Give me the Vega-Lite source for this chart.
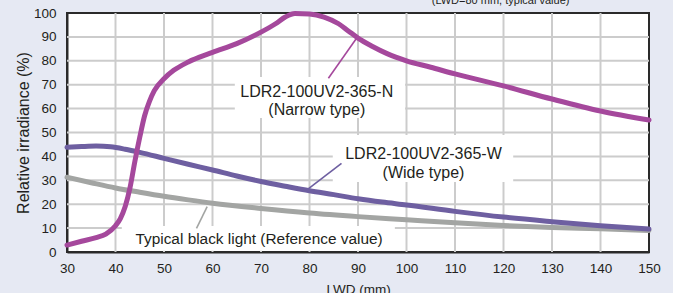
{
  "$schema": "https://vega.github.io/schema/vega-lite/v6.json",
  "width": 582,
  "height": 239,
  "autosize": {"type": "none"},
  "padding": {"left": 67, "top": 13, "right": 24, "bottom": 41},
  "background": "#e6e9f3",
  "data": {"values": [{}]},
  "config": {
    "font": "Liberation Sans",
    "view": {"fill": "white", "stroke": "#2a2a2a", "strokeWidth": 2},
    "axis": {
      "grid": false,
      "domainColor": "#2a2a2a",
      "domainWidth": 2,
      "ticks": false,
      "labelColor": "#231f20",
      "labelFontSize": 13.5,
      "labelFlush": false,
      "labelOverlap": false,
      "titleColor": "#231f20",
      "titleFontWeight": "normal"
    },
    "axisX": {"labelPadding": 9, "titlePadding": 8, "titleFontSize": 13.5},
    "axisY": {"labelPadding": 11, "titlePadding": 2, "titleFontSize": 16}
  },
  "datasets": {
    "gridX": [{"v": 40}, {"v": 50}, {"v": 60}, {"v": 70}, {"v": 80}, {"v": 90}, {"v": 100}, {"v": 110}, {"v": 120}, {"v": 130}, {"v": 140}],
    "gridY": [{"v": 10}, {"v": 20}, {"v": 30}, {"v": 40}, {"v": 50}, {"v": 60}, {"v": 70}, {"v": 80}, {"v": 90}],
    "curves": [
      {"series": "gray", "lwd": 30, "irr": 31.3},
      {"series": "gray", "lwd": 35, "irr": 29.0},
      {"series": "gray", "lwd": 40, "irr": 26.8},
      {"series": "gray", "lwd": 45, "irr": 25.0},
      {"series": "gray", "lwd": 50, "irr": 23.3},
      {"series": "gray", "lwd": 55, "irr": 21.8},
      {"series": "gray", "lwd": 60, "irr": 20.4},
      {"series": "gray", "lwd": 70, "irr": 18.2},
      {"series": "gray", "lwd": 80, "irr": 16.3},
      {"series": "gray", "lwd": 90, "irr": 14.8},
      {"series": "gray", "lwd": 100, "irr": 13.5},
      {"series": "gray", "lwd": 110, "irr": 12.2},
      {"series": "gray", "lwd": 120, "irr": 11.1},
      {"series": "gray", "lwd": 130, "irr": 10.3},
      {"series": "gray", "lwd": 140, "irr": 9.7},
      {"series": "gray", "lwd": 150, "irr": 9.0},
      {"series": "wide", "lwd": 30, "irr": 43.8},
      {"series": "wide", "lwd": 33, "irr": 44.1},
      {"series": "wide", "lwd": 36, "irr": 44.3},
      {"series": "wide", "lwd": 39, "irr": 44.0},
      {"series": "wide", "lwd": 42, "irr": 43.0},
      {"series": "wide", "lwd": 45, "irr": 41.7},
      {"series": "wide", "lwd": 50, "irr": 39.2},
      {"series": "wide", "lwd": 55, "irr": 36.7},
      {"series": "wide", "lwd": 60, "irr": 34.3},
      {"series": "wide", "lwd": 65, "irr": 31.8},
      {"series": "wide", "lwd": 70, "irr": 29.5},
      {"series": "wide", "lwd": 75, "irr": 27.5},
      {"series": "wide", "lwd": 80, "irr": 25.6},
      {"series": "wide", "lwd": 85, "irr": 24.0},
      {"series": "wide", "lwd": 90, "irr": 22.3},
      {"series": "wide", "lwd": 95, "irr": 20.9},
      {"series": "wide", "lwd": 100, "irr": 19.7},
      {"series": "wide", "lwd": 110, "irr": 17.0},
      {"series": "wide", "lwd": 120, "irr": 14.6},
      {"series": "wide", "lwd": 130, "irr": 12.7},
      {"series": "wide", "lwd": 140, "irr": 11.0},
      {"series": "wide", "lwd": 150, "irr": 9.6},
      {"series": "narrow", "lwd": 30, "irr": 2.9},
      {"series": "narrow", "lwd": 33, "irr": 4.5},
      {"series": "narrow", "lwd": 36, "irr": 6.0},
      {"series": "narrow", "lwd": 38, "irr": 7.5},
      {"series": "narrow", "lwd": 40, "irr": 11.0},
      {"series": "narrow", "lwd": 41, "irr": 14.0},
      {"series": "narrow", "lwd": 42, "irr": 19.0},
      {"series": "narrow", "lwd": 43, "irr": 27.0},
      {"series": "narrow", "lwd": 44, "irr": 38.0},
      {"series": "narrow", "lwd": 45, "irr": 48.0},
      {"series": "narrow", "lwd": 46, "irr": 57.0},
      {"series": "narrow", "lwd": 47, "irr": 63.0},
      {"series": "narrow", "lwd": 48, "irr": 67.5},
      {"series": "narrow", "lwd": 50, "irr": 72.5},
      {"series": "narrow", "lwd": 52, "irr": 76.0},
      {"series": "narrow", "lwd": 55, "irr": 79.5},
      {"series": "narrow", "lwd": 60, "irr": 83.5},
      {"series": "narrow", "lwd": 65, "irr": 87.2},
      {"series": "narrow", "lwd": 70, "irr": 92.0},
      {"series": "narrow", "lwd": 73, "irr": 95.5},
      {"series": "narrow", "lwd": 75, "irr": 98.3},
      {"series": "narrow", "lwd": 77, "irr": 99.8},
      {"series": "narrow", "lwd": 80, "irr": 99.6},
      {"series": "narrow", "lwd": 83, "irr": 98.3},
      {"series": "narrow", "lwd": 86, "irr": 95.5},
      {"series": "narrow", "lwd": 88, "irr": 92.5},
      {"series": "narrow", "lwd": 90, "irr": 89.5},
      {"series": "narrow", "lwd": 93, "irr": 86.0},
      {"series": "narrow", "lwd": 96, "irr": 83.0},
      {"series": "narrow", "lwd": 100, "irr": 80.0},
      {"series": "narrow", "lwd": 105, "irr": 77.3},
      {"series": "narrow", "lwd": 110, "irr": 74.5},
      {"series": "narrow", "lwd": 120, "irr": 69.5},
      {"series": "narrow", "lwd": 130, "irr": 64.0},
      {"series": "narrow", "lwd": 140, "irr": 59.0},
      {"series": "narrow", "lwd": 150, "irr": 55.2}
    ]
  },
  "layer": [
    {
      "data": {"name": "gridX"},
      "mark": {"type": "rule", "stroke": "#cccccc", "strokeWidth": 2},
      "encoding": {
        "x": {"field": "v", "type": "quantitative", "scale": {"domain": [30, 150], "nice": false, "zero": false}, "axis": {"values": [30, 40, 50, 60, 70, 80, 90, 100, 110, 120, 130, 140, 150], "title": "LWD (mm)"}}
      }
    },
    {
      "data": {"name": "gridY"},
      "mark": {"type": "rule", "stroke": "#cccccc", "strokeWidth": 2},
      "encoding": {
        "y": {"field": "v", "type": "quantitative", "scale": {"domain": [0, 100], "nice": false}, "axis": {"values": [0, 10, 20, 30, 40, 50, 60, 70, 80, 90, 100], "title": "Relative irradiance (%)"}}
      }
    },
    {
      "mark": {"type": "rect", "fill": "white"},
      "encoding": {
        "x": {"datum": 64.6, "type": "quantitative", "axis": {"values": [30, 40, 50, 60, 70, 80, 90, 100, 110, 120, 130, 140, 150], "title": "LWD (mm)"}},
        "x2": {"datum": 99.7},
        "y": {"datum": 73.2, "type": "quantitative", "axis": {"values": [0, 10, 20, 30, 40, 50, 60, 70, 80, 90, 100], "title": "Relative irradiance (%)"}},
        "y2": {"datum": 56.1}
      }
    },
    {
      "mark": {"type": "rect", "fill": "white"},
      "encoding": {
        "x": {"datum": 84.8, "type": "quantitative", "axis": {"values": [30, 40, 50, 60, 70, 80, 90, 100, 110, 120, 130, 140, 150], "title": "LWD (mm)"}},
        "x2": {"datum": 122},
        "y": {"datum": 49, "type": "quantitative", "axis": {"values": [0, 10, 20, 30, 40, 50, 60, 70, 80, 90, 100], "title": "Relative irradiance (%)"}},
        "y2": {"datum": 29.3}
      }
    },
    {
      "mark": {"type": "rect", "fill": "white"},
      "encoding": {
        "x": {"datum": 41.3, "type": "quantitative", "axis": {"values": [30, 40, 50, 60, 70, 80, 90, 100, 110, 120, 130, 140, 150], "title": "LWD (mm)"}},
        "x2": {"datum": 97.6},
        "y": {"datum": 10.9, "type": "quantitative", "axis": {"values": [0, 10, 20, 30, 40, 50, 60, 70, 80, 90, 100], "title": "Relative irradiance (%)"}},
        "y2": {"datum": 0.5}
      }
    },
    {
      "data": {"name": "curves"},
      "mark": {"type": "line", "interpolate": "monotone", "strokeWidth": 5, "strokeCap": "round", "strokeJoin": "round"},
      "encoding": {
        "x": {"field": "lwd", "type": "quantitative", "axis": {"values": [30, 40, 50, 60, 70, 80, 90, 100, 110, 120, 130, 140, 150], "title": "LWD (mm)"}},
        "y": {"field": "irr", "type": "quantitative", "axis": {"values": [0, 10, 20, 30, 40, 50, 60, 70, 80, 90, 100], "title": "Relative irradiance (%)"}},
        "color": {"field": "series", "type": "nominal", "scale": {"domain": ["gray", "wide", "narrow"], "range": ["#a3a5a3", "#6e5fa1", "#a5489c"]}, "legend": null},
        "order": {"field": "lwd", "type": "quantitative"}
      }
    },
    {
      "mark": {"type": "rule", "stroke": "#a5489c", "strokeWidth": 1.6},
      "encoding": {
        "x": {"datum": 83.9, "type": "quantitative", "axis": {"values": [30, 40, 50, 60, 70, 80, 90, 100, 110, 120, 130, 140, 150], "title": "LWD (mm)"}},
        "y": {"datum": 72.7, "type": "quantitative", "axis": {"values": [0, 10, 20, 30, 40, 50, 60, 70, 80, 90, 100], "title": "Relative irradiance (%)"}},
        "x2": {"datum": 89.7},
        "y2": {"datum": 89.4}
      }
    },
    {
      "mark": {"type": "rule", "stroke": "#6e5fa1", "strokeWidth": 1.6},
      "encoding": {
        "x": {"datum": 86.6, "type": "quantitative", "axis": {"values": [30, 40, 50, 60, 70, 80, 90, 100, 110, 120, 130, 140, 150], "title": "LWD (mm)"}},
        "y": {"datum": 37.1, "type": "quantitative", "axis": {"values": [0, 10, 20, 30, 40, 50, 60, 70, 80, 90, 100], "title": "Relative irradiance (%)"}},
        "x2": {"datum": 79.4},
        "y2": {"datum": 25.9}
      }
    },
    {
      "mark": {"type": "rule", "stroke": "#a3a5a3", "strokeWidth": 1.6},
      "encoding": {
        "x": {"datum": 56.7, "type": "quantitative", "axis": {"values": [30, 40, 50, 60, 70, 80, 90, 100, 110, 120, 130, 140, 150], "title": "LWD (mm)"}},
        "y": {"datum": 9.9, "type": "quantitative", "axis": {"values": [0, 10, 20, 30, 40, 50, 60, 70, 80, 90, 100], "title": "Relative irradiance (%)"}},
        "x2": {"datum": 58.9},
        "y2": {"datum": 19.0}
      }
    },
    {
      "mark": {"type": "text", "fontSize": 16, "color": "#231f20", "align": "center", "baseline": "middle", "lineHeight": 18.3},
      "encoding": {
        "x": {"datum": 81.5, "type": "quantitative", "axis": {"values": [30, 40, 50, 60, 70, 80, 90, 100, 110, 120, 130, 140, 150], "title": "LWD (mm)"}},
        "y": {"datum": 67.1, "type": "quantitative", "axis": {"values": [0, 10, 20, 30, 40, 50, 60, 70, 80, 90, 100], "title": "Relative irradiance (%)"}},
        "text": {"value": ["LDR2-100UV2-365-N", "(Narrow type)"]}
      }
    },
    {
      "mark": {"type": "text", "fontSize": 16, "color": "#231f20", "align": "center", "baseline": "middle", "lineHeight": 19},
      "encoding": {
        "x": {"datum": 103.5, "type": "quantitative", "axis": {"values": [30, 40, 50, 60, 70, 80, 90, 100, 110, 120, 130, 140, 150], "title": "LWD (mm)"}},
        "y": {"datum": 40.9, "type": "quantitative", "axis": {"values": [0, 10, 20, 30, 40, 50, 60, 70, 80, 90, 100], "title": "Relative irradiance (%)"}},
        "text": {"value": ["LDR2-100UV2-365-W", "(Wide type)"]}
      }
    },
    {
      "mark": {"type": "text", "fontSize": 15.4, "color": "#231f20", "align": "center", "baseline": "middle"},
      "encoding": {
        "x": {"datum": 69.6, "type": "quantitative", "axis": {"values": [30, 40, 50, 60, 70, 80, 90, 100, 110, 120, 130, 140, 150], "title": "LWD (mm)"}},
        "y": {"datum": 5.3, "type": "quantitative", "axis": {"values": [0, 10, 20, 30, 40, 50, 60, 70, 80, 90, 100], "title": "Relative irradiance (%)"}},
        "text": {"value": "Typical black light (Reference value)"}
      }
    },
    {
      "mark": {"type": "text", "fontSize": 11, "color": "#231f20", "align": "center", "baseline": "alphabetic"},
      "encoding": {
        "x": {"datum": 119.4, "type": "quantitative", "axis": {"values": [30, 40, 50, 60, 70, 80, 90, 100, 110, 120, 130, 140, 150], "title": "LWD (mm)"}},
        "y": {"datum": 103.8, "type": "quantitative", "axis": {"values": [0, 10, 20, 30, 40, 50, 60, 70, 80, 90, 100], "title": "Relative irradiance (%)"}},
        "text": {"value": "(LWD=80 mm, typical value)"}
      }
    }
  ]
}
